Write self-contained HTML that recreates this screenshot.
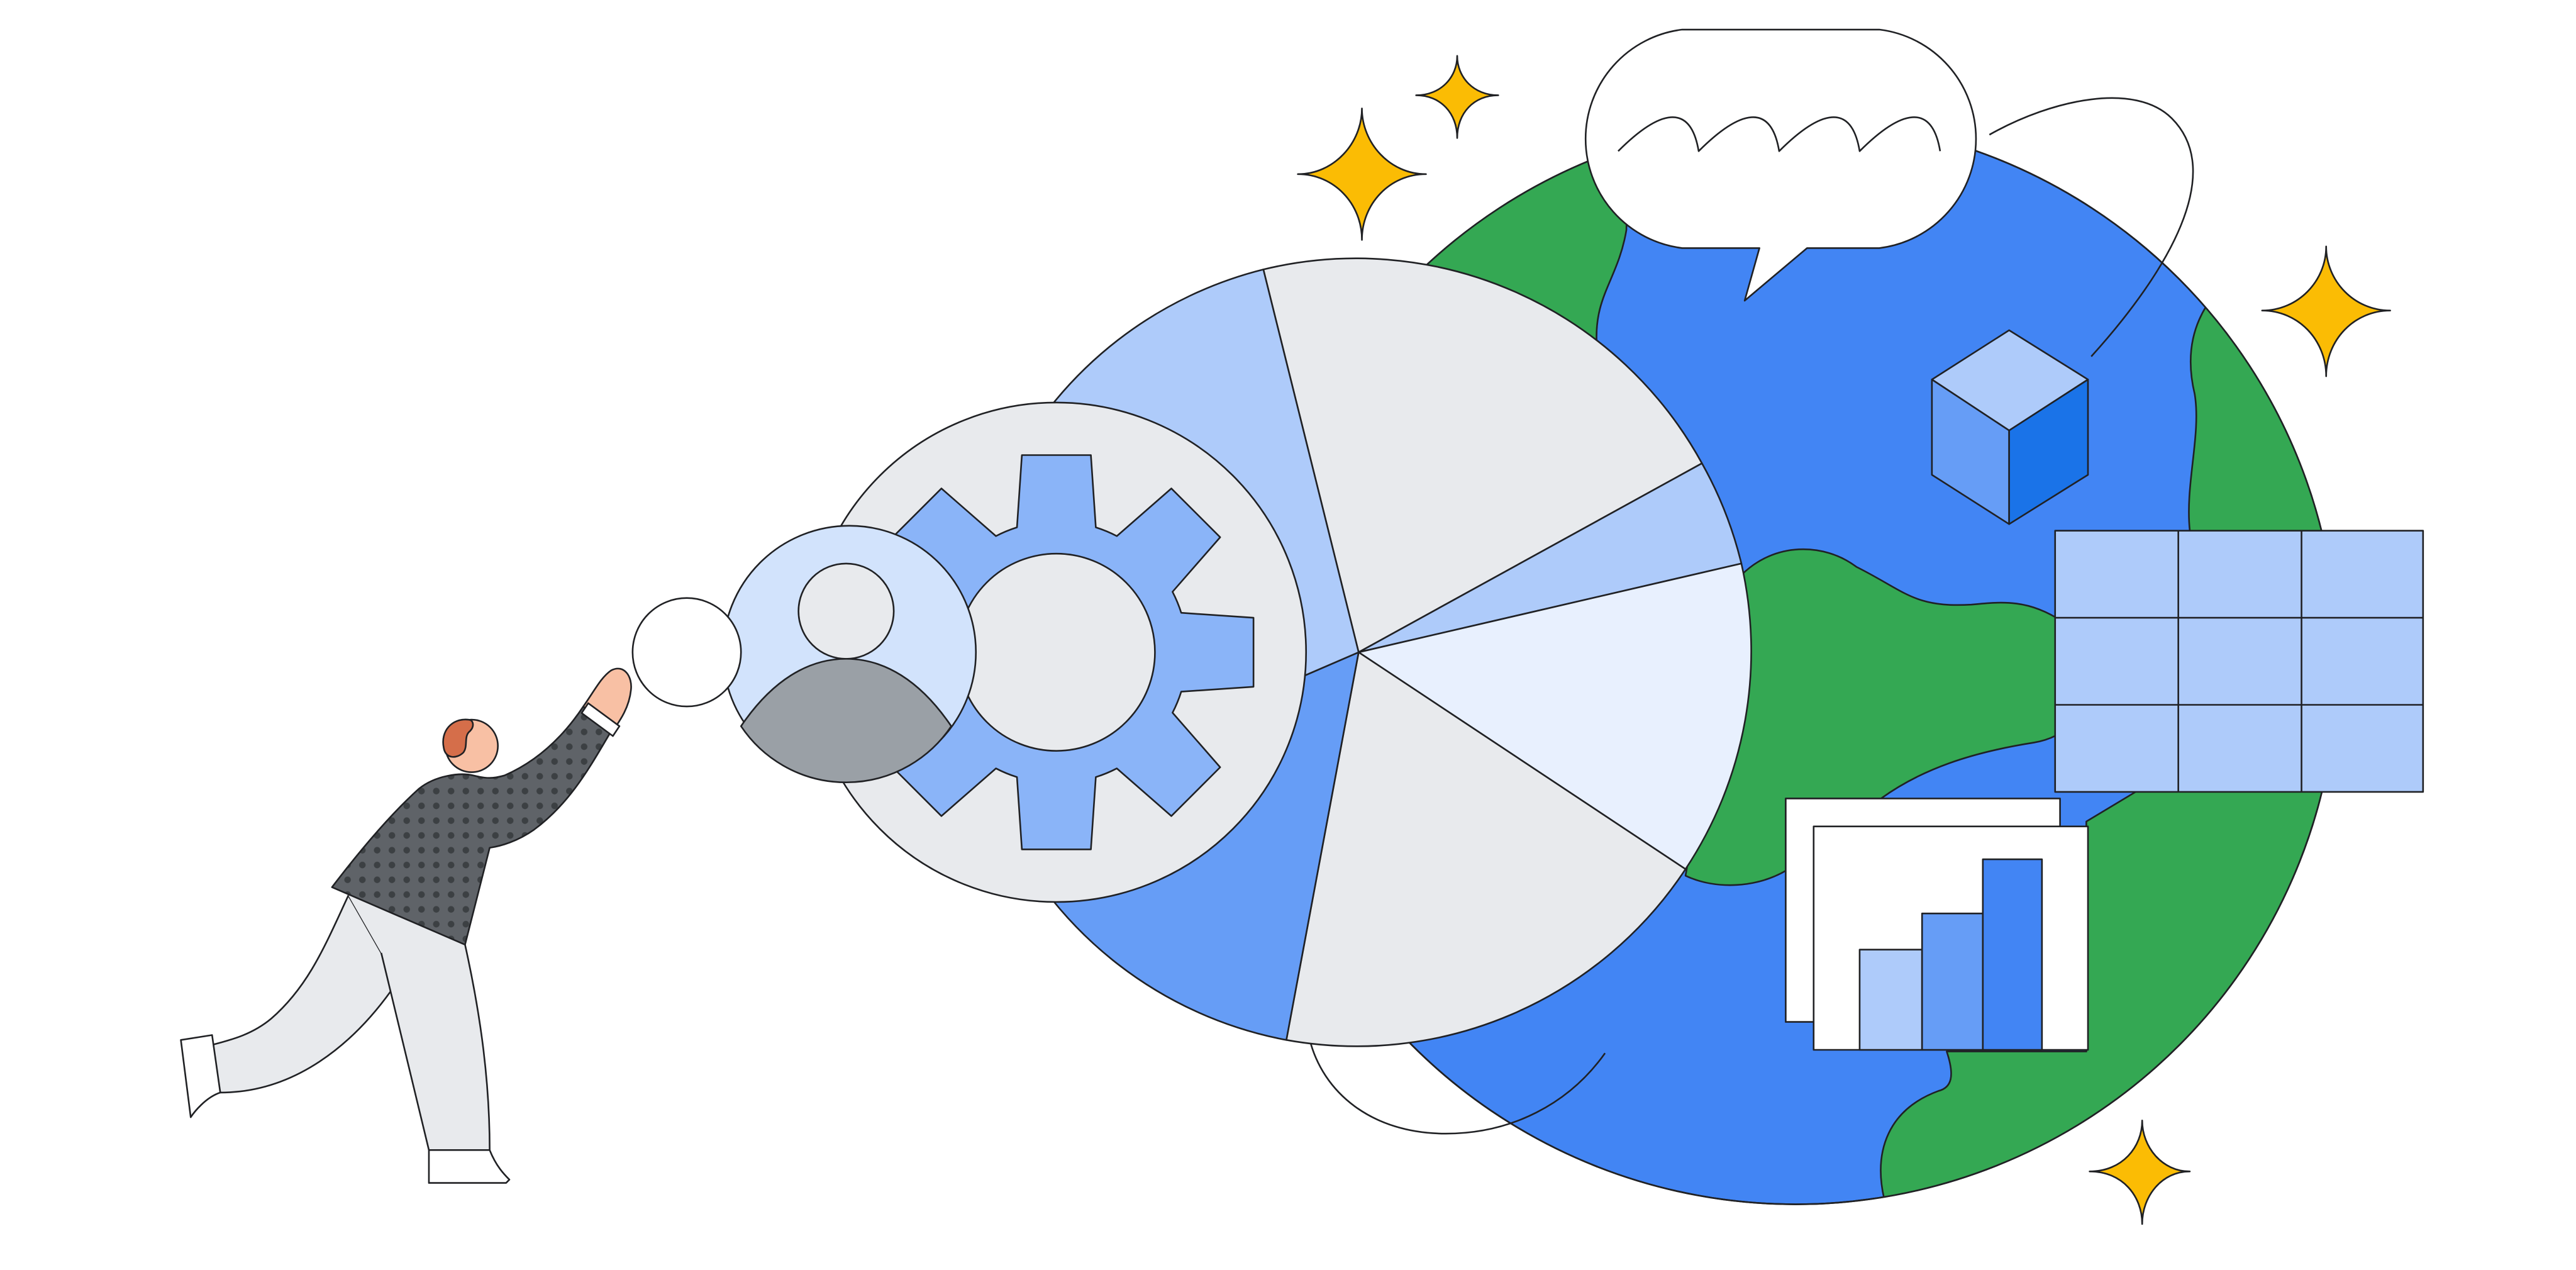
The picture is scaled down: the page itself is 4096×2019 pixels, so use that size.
<!DOCTYPE html>
<html><head><meta charset="utf-8"><style>html,body{margin:0;padding:0;background:#fff}svg{display:block}</style></head>
<body>
<svg width="4096" height="2019" viewBox="0 0 1568 773" xmlns="http://www.w3.org/2000/svg" fill="none" stroke="#202124" stroke-width="1" stroke-linejoin="round">
<defs>
<clipPath id="g"><circle cx="1093" cy="403" r="330"/></clipPath>
<pattern id="dots" width="9" height="9" patternUnits="userSpaceOnUse"><rect width="9" height="9" fill="#5F6368" stroke="none"/><circle cx="4.5" cy="4.5" r="2" fill="#3C4043" stroke="none"/></pattern>
</defs>
<circle cx="1093" cy="403" r="330" fill="#4285F4"/>
<g clip-path="url(#g)" fill="#34A853">
<path d="M780,40 L992,40 L990,140 C985,170 970,180 972,210 L900,320 L780,320 Z"/>
<path d="M1349,178 C1335,195 1330,215 1336,240 C1340,265 1330,295 1333,323 L1300,482 L1270,500 L1270,640 L1185,640 C1190,655 1188,662 1180,664 C1150,675 1140,700 1147,730 L1460,780 L1460,150 Z"/>
<path d="M1060,350 C1080,330 1110,330 1130,345 C1160,360 1165,370 1200,368 C1220,366 1235,365 1255,378 C1280,395 1280,445 1238,452 C1200,458 1170,468 1145,486 L1087,486 L1087,530 C1070,540 1045,542 1026,533 L1060,343 Z"/>
</g>
<circle cx="1093" cy="403" r="330"/>
<path d="M1211,82 C1250,60 1300,50 1322,72 C1355,105 1320,165 1273,217"/>
<path d="M797,632 C805,665 835,690 880,690 C920,690 955,672 977,641"/>
<path d="M1024,18 L1144,18 A67,67 0 0 1 1144,151 L1100,151 L1062,183 L1071,151 L1024,151 A67,67 0 0 1 1024,18 Z" fill="#fff"/>
<path d="M985,92 C1010,67 1029,62 1034,92 C1059,67 1078,62 1083,92 C1108,67 1127,62 1132,92 C1157,67 1176,62 1181,92"/>
<g fill="#FBBC04">
<path d="M829,66 C829,87 846,106 868,106 C846,106 829,124 829,146 C829,124 812,106 790,106 C812,106 829,87 829,66 Z"/>
<path d="M887,34 C887,47 897,58 912,58 C897,58 887,69 887,84 C887,69 877,58 862,58 C877,58 887,47 887,34 Z"/>
<path d="M1416,150 C1416,171 1433,189 1455,189 C1433,189 1416,207 1416,229 C1416,207 1399,189 1377,189 C1399,189 1416,171 1416,150 Z"/>
<path d="M1304,682 C1304,698 1316,713 1333,713 C1316,713 1304,728 1304,745 C1304,728 1292,713 1272,713 C1292,713 1304,698 1304,682 Z"/>
</g>
<path d="M1176,231 L1223,201 L1271,231 L1223,262 Z" fill="#AECBFA"/>
<path d="M1176,231 L1223,262 L1223,319 L1176,289 Z" fill="#669DF6"/>
<path d="M1271,231 L1223,262 L1223,319 L1271,289 Z" fill="#1A73E8"/>
<rect x="1251" y="323" width="224" height="159" fill="#AECBFA"/>
<path d="M1326,323 V482 M1401,323 V482 M1251,376 H1475 M1251,429 H1475"/>
<rect x="1087" y="486" width="167" height="136" fill="#fff"/>
<rect x="1104" y="503" width="167" height="136" fill="#fff"/>
<rect x="1132" y="578" width="38" height="61" fill="#AECBFA"/>
<rect x="1170" y="556" width="37" height="83" fill="#669DF6"/>
<rect x="1207" y="523" width="36" height="116" fill="#4285F4"/>
<path d="M827,397 L769,164 A240,240 0 0 1 1036,282 Z" fill="#E8EAED"/>
<path d="M827,397 L1036,282 A240,240 0 0 1 1060,343 Z" fill="#AECBFA"/>
<path d="M827,397 L1060,343 A240,240 0 0 1 1026,529 Z" fill="#E8F0FE"/>
<path d="M827,397 L1026,529 A240,240 0 0 1 783,633 Z" fill="#E8EAED"/>
<path d="M827,397 L783,633 A240,240 0 0 1 607,492 Z" fill="#669DF6"/>
<path d="M827,397 L607,492 A240,240 0 0 1 769,164 Z" fill="#AECBFA"/>
<circle cx="643" cy="397" r="152" fill="#E8EAED"/>
<path d="M619,321 L622,277 L664,277 L667,321 A80,80 0 0 1 679.8,326.3 L713,297.3 L742.7,327 L713.7,360.2 A80,80 0 0 1 719,373 L763,376 L763,418 L719,421 A80,80 0 0 1 713.7,433.8 L742.7,467 L713,496.7 L679.8,467.7 A80,80 0 0 1 667,473 L664,517 L622,517 L619,473 A80,80 0 0 1 606.2,467.7 L573,496.7 L543.3,467 L572.3,433.8 A80,80 0 0 1 567,421 L523,418 L523,376 L567,373 A80,80 0 0 1 572.3,360.2 L543.3,327 L573,297.3 L606.2,326.3 A80,80 0 0 1 619,321 Z" fill="#8AB4F8"/>
<circle cx="643" cy="397" r="60" fill="#E8EAED"/>
<circle cx="517" cy="397" r="77" fill="#D2E3FC"/>
<circle cx="515" cy="372" r="29" fill="#E8EAED"/>
<path d="M451,442 C470,414 492,401 515,401 C538,401 560,414 579,442 A77,77 0 0 1 451,442 Z" fill="#9AA0A6"/>
<circle cx="418" cy="397" r="33" fill="#fff"/>
<path d="M212,545 C198,575 188,600 165,620 C153,630 140,633 129,636 L134,665 C180,665 215,635 238,603 L232,580 Z" fill="#E8EAED"/>
<path d="M212,545 L232,580 L261,700 L298,700 C298,660 293,620 283,575 Z" fill="#E8EAED" stroke="none"/>
<path d="M232,580 L261,700 M298,700 C298,660 293,620 283,575"/>
<path d="M110,633 L129,630 L134,665 C125,668 118,677 116,680 L110,633 Z" fill="#fff"/>
<path d="M261,700 L298,700 C302,710 307,715 310,718 L308,720 L261,720 Z" fill="#fff"/>
<path d="M202,540 C215,523 235,498 255,480 C265,472 280,470 288,472 C296,474 300,474 307,472 C330,462 345,445 355,430 L372,445 C360,465 348,488 325,505 C315,512 305,515 298,516 L283,575 Z" fill="url(#dots)"/>
<path d="M355,430 C362,420 366,412 372,408 C380,404 385,412 384,420 C383,430 378,438 372,446 Z" fill="#F8C0A4"/>
<path d="M358,428 L377,442 L373,448 L354,434 Z" fill="#fff"/>
<circle cx="287" cy="454" r="16" fill="#F8C0A4"/>
<path d="M285,438 C275,437 268,445 270,455 C271,462 278,462 282,458 C285,454 282,448 286,445 C289,442 288,438 285,438 Z" fill="#D56E4A"/>
</svg>
</body></html>
